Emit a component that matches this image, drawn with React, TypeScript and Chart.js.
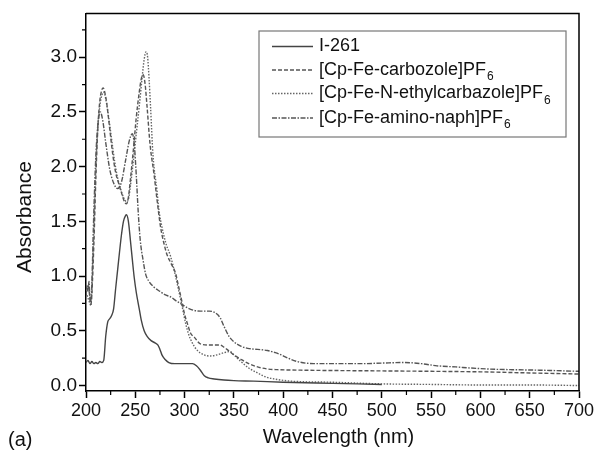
import React, { useEffect, useRef } from 'react';
import { Chart, registerables } from 'chart.js';

Chart.register(...registerables);

// ---------- data ----------
const WL_I261 = [200, 202, 204, 206, 208, 210, 212, 214, 216, 218, 220, 222, 224, 226, 228, 230, 232, 234, 236, 238, 240, 241, 243, 245, 247, 249, 251, 254, 256, 259, 262, 266, 270, 273, 275, 277, 280, 284, 290, 300, 308, 312, 316, 320, 324, 330, 340, 350, 370, 400, 450, 500];
const ABS_I261 = [0.21, 0.23, 0.2, 0.22, 0.2, 0.21, 0.2, 0.22, 0.21, 0.23, 0.45, 0.58, 0.61, 0.64, 0.7, 0.88, 1.05, 1.22, 1.38, 1.5, 1.55, 1.56, 1.5, 1.33, 1.15, 0.98, 0.85, 0.7, 0.6, 0.5, 0.45, 0.41, 0.39, 0.37, 0.33, 0.28, 0.24, 0.21, 0.2, 0.2, 0.2, 0.18, 0.14, 0.09, 0.07, 0.06, 0.05, 0.045, 0.04, 0.03, 0.02, 0.01];

const WL_CARB = [200, 202, 204, 205, 206, 208, 210, 212, 214, 216, 217.5, 219, 221, 224, 227, 230, 233, 236, 239, 241, 243, 245, 248, 251, 254, 256, 258, 260, 262, 265, 269, 272, 275.6, 279, 282, 286, 291, 294, 297.7, 300, 302.7, 306, 310, 316, 326, 336, 340, 343, 350, 357, 365, 374, 385, 394, 420, 480, 550, 600, 650, 700];
const ABS_CARB = [0.88, 0.92, 0.8, 0.74, 0.85, 1.3, 1.9, 2.35, 2.6, 2.7, 2.72, 2.68, 2.58, 2.35, 2.12, 1.95, 1.85, 1.76, 1.68, 1.66, 1.72, 1.88, 2.15, 2.45, 2.68, 2.8, 2.84, 2.75, 2.54, 2.2, 1.93, 1.7, 1.45, 1.3, 1.2, 1.12, 1.02, 0.9, 0.75, 0.65, 0.57, 0.48, 0.44, 0.38, 0.37, 0.37, 0.35, 0.33, 0.28, 0.24, 0.2, 0.17, 0.15, 0.145, 0.14, 0.135, 0.13, 0.125, 0.115, 0.105];

const WL_ETHYL = [200, 202, 204, 205, 206, 208, 210, 212, 214, 216, 218, 220, 223, 226, 229, 232, 235, 238, 241, 243, 245, 248, 251, 254, 257, 259, 261, 262.5, 264, 265.5, 268, 272, 274, 277, 281, 285.8, 290, 294, 298, 301, 304, 307.8, 312, 319.6, 326, 333, 340, 346, 350, 357, 365, 374, 382, 391, 408, 450, 500, 550, 600, 650, 700];
const ABS_ETHYL = [0.85, 0.8, 0.75, 0.73, 0.9, 1.45, 2.0, 2.35, 2.55, 2.65, 2.68, 2.62, 2.45, 2.25, 2.05, 1.9, 1.8, 1.72, 1.68, 1.7, 1.82, 2.05, 2.3, 2.55, 2.82, 2.98, 3.05, 3.0, 2.8, 2.54, 2.1, 1.78, 1.6, 1.45, 1.3, 1.18, 1.03, 0.87, 0.7, 0.57, 0.47, 0.39, 0.33, 0.28, 0.27, 0.28, 0.3, 0.31, 0.28, 0.22, 0.16, 0.115, 0.08, 0.06, 0.04, 0.03, 0.015, 0.01, 0.005, 0.005, 0.0];

const WL_NAPH = [200, 201, 202, 203, 204, 205, 206, 208, 210, 212, 214.5, 217, 220, 224, 228, 232, 236, 240, 244, 247, 249, 251, 253, 255, 258, 260.4, 264, 268.8, 275, 280, 285.8, 292, 297.7, 305, 316, 325, 330, 336, 340, 345, 350, 357, 364, 374, 384, 392, 398, 405, 414, 431, 460, 480, 500, 522, 540, 556, 575, 590, 610, 631, 660, 700];
const ABS_NAPH = [0.82, 0.9, 0.86, 0.95, 0.8, 0.76, 0.95, 1.6, 2.1, 2.38, 2.5, 2.42, 2.22, 1.98, 1.85, 1.8, 1.86, 2.05, 2.24, 2.3, 2.2, 1.92, 1.58, 1.33, 1.14, 1.02, 0.95, 0.9, 0.86, 0.83, 0.81, 0.77, 0.74, 0.7, 0.68, 0.68, 0.67, 0.62, 0.54, 0.45, 0.4, 0.36, 0.34, 0.33, 0.32, 0.3, 0.28, 0.25, 0.22, 0.2, 0.2, 0.2, 0.205, 0.21, 0.2, 0.18, 0.17, 0.16, 0.15, 0.145, 0.14, 0.13];

const X_TICKS = [200, 250, 300, 350, 400, 450, 500, 550, 600, 650, 700];
const X_MINOR = [225, 275, 325, 375, 425, 475, 525, 575, 625, 675];
const Y_TICKS = [0, 0.5, 1.0, 1.5, 2.0, 2.5, 3.0];
const Y_MINOR = [0.25, 0.75, 1.25, 1.75, 2.25, 2.75, 3.25];

const SERIES_NAMES = ['I-261', '[Cp-Fe-carbozole]PF', '[Cp-Fe-N-ethylcarbazole]PF', '[Cp-Fe-amino-naph]PF'];
const SERIES_SUBS = ['', '6', '6', '6'];
const X_TITLE = 'Wavelength (nm)';
const Y_TITLE = 'Absorbance';
const PANEL_LABEL = '(a)';

const FONT = '"Liberation Sans", Arial, sans-serif';

function pts(xs: number[], ys: number[]) {
  return xs.map((x, i) => ({ x, y: ys[i] }));
}

const decor = {
  id: 'decor',
  afterDraw(chart: any) {
    const { ctx, chartArea: a, scales } = chart;
    const xs = scales.x;
    const ys = scales.y;
    ctx.save();
    // top & right frame
    ctx.strokeStyle = '#000';
    ctx.lineWidth = 1.5;
    ctx.setLineDash([]);
    ctx.beginPath();
    ctx.moveTo(a.left, a.top);
    ctx.lineTo(a.right, a.top);
    ctx.lineTo(a.right, a.bottom);
    ctx.stroke();
    // minor ticks
    ctx.lineWidth = 1.2;
    ctx.beginPath();
    X_MINOR.forEach((v) => {
      const px = xs.getPixelForValue(v);
      ctx.moveTo(px, a.bottom);
      ctx.lineTo(px, a.bottom + 4);
    });
    Y_MINOR.forEach((v) => {
      const py = ys.getPixelForValue(v);
      ctx.moveTo(a.left - 4, py);
      ctx.lineTo(a.left, py);
    });
    ctx.stroke();

    // axis titles
    ctx.fillStyle = '#111';
    ctx.textAlign = 'center';
    ctx.textBaseline = 'middle';
    ctx.font = '20px ' + FONT;
    ctx.fillText(X_TITLE, (a.left + a.right) / 2 + 6, 437);
    ctx.save();
    ctx.translate(25, 217);
    ctx.rotate(-Math.PI / 2);
    ctx.font = '21px ' + FONT;
    ctx.fillText(Y_TITLE, 0, 0);
    ctx.restore();
    ctx.textAlign = 'left';
    ctx.font = '20px ' + FONT;
    ctx.fillText(PANEL_LABEL, 8, 440);

    // legend
    const bx = 259, by = 31, bw = 307, bh = 106;
    ctx.strokeStyle = '#777';
    ctx.lineWidth = 1.2;
    ctx.strokeRect(bx, by, bw, bh);
    const rows = [46.5, 70, 93.5, 118];
    chart.data.datasets.forEach((ds: any, i: number) => {
      const ry = rows[i];
      ctx.strokeStyle = ds.borderColor;
      ctx.lineWidth = ds.borderWidth;
      ctx.setLineDash(ds.borderDash || []);
      ctx.beginPath();
      ctx.moveTo(272, ry);
      ctx.lineTo(313, ry);
      ctx.stroke();
      ctx.setLineDash([]);
      ctx.fillStyle = '#111';
      ctx.font = '18px ' + FONT;
      ctx.textBaseline = 'middle';
      ctx.fillText(SERIES_NAMES[i], 319, ry);
      if (SERIES_SUBS[i]) {
        const w = ctx.measureText(SERIES_NAMES[i]).width;
        ctx.font = '12px ' + FONT;
        ctx.fillText(SERIES_SUBS[i], 319 + w + 1, ry + 7);
      }
    });
    ctx.restore();
  },
};

export default function App() {
  const ref = useRef<HTMLCanvasElement | null>(null);
  useEffect(() => {
    document.body.style.margin = '0';
    document.body.style.overflow = 'hidden';
    const canvas = ref.current;
    if (!canvas) return;
    const chart = new Chart(canvas, {
      type: 'line',
      data: {
        datasets: [
          { label: SERIES_NAMES[0], data: pts(WL_I261, ABS_I261), borderColor: '#444', borderWidth: 1.4, borderDash: [] },
          { label: SERIES_NAMES[1], data: pts(WL_CARB, ABS_CARB), borderColor: '#555', borderWidth: 1.4, borderDash: [4, 2] },
          { label: SERIES_NAMES[2], data: pts(WL_ETHYL, ABS_ETHYL), borderColor: '#666', borderWidth: 1.4, borderDash: [1.5, 1.5] },
          { label: SERIES_NAMES[3], data: pts(WL_NAPH, ABS_NAPH), borderColor: '#555', borderWidth: 1.4, borderDash: [5, 1.5, 1.5, 1.5] },
        ],
      },
      options: {
        animation: false,
        responsive: false,
        maintainAspectRatio: false,
        devicePixelRatio: 1,
        layout: { padding: { left: 0, top: 12, right: 20, bottom: 0 } },
        elements: {
          point: { radius: 0 },
          line: { cubicInterpolationMode: 'monotone', fill: false },
        },
        plugins: {
          legend: { display: false },
          tooltip: { enabled: false },
          title: { display: false },
        },
        scales: {
          x: {
            type: 'linear',
            min: 200,
            max: 700,
            afterFit: (s: any) => { s.height = 60; },
            afterBuildTicks: (s: any) => { s.ticks = X_TICKS.map((v) => ({ value: v })); },
            border: { display: true, color: '#000', width: 1.5 },
            grid: { display: true, drawOnChartArea: false, drawTicks: true, tickLength: 7, tickColor: '#000', tickWidth: 1.5 },
            ticks: { color: '#111', font: { family: FONT, size: 18 }, padding: 2, maxRotation: 0, autoSkip: false, callback: (v: any) => String(v) },
          },
          y: {
            type: 'linear',
            min: -0.05,
            max: 3.4,
            afterFit: (s: any) => { s.width = 86; },
            afterBuildTicks: (s: any) => { s.ticks = Y_TICKS.map((v) => ({ value: v })); },
            border: { display: true, color: '#000', width: 1.5 },
            grid: { display: true, drawOnChartArea: false, drawTicks: true, tickLength: 7, tickColor: '#000', tickWidth: 1.5 },
            ticks: { color: '#111', font: { family: FONT, size: 19 }, padding: 2, autoSkip: false, callback: (v: any) => Number(v).toFixed(1) },
          },
        },
      },
      plugins: [decor],
    } as any);
    return () => chart.destroy();
  }, []);
  return <canvas ref={ref} width={599} height={451} style={{ display: 'block', width: 599, height: 451 }} />;
}
